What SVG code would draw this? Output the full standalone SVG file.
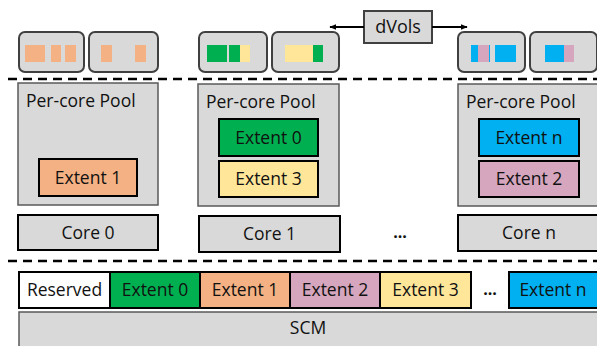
<svg xmlns="http://www.w3.org/2000/svg" width="597" height="346" viewBox="0 0 597 346">
<defs>
<marker id="ah" viewBox="0 0 10 10" refX="9" refY="5" markerWidth="7" markerHeight="7" orient="auto-start-reverse" markerUnits="userSpaceOnUse">
<path d="M0,1 L10,5 L0,9 z" fill="#000"/>
</marker>
</defs>
<style>
text{font-family:"Open Sans","Noto Sans",sans-serif;font-size:17.5px;fill:#111}
.t{text-anchor:middle}
.dots{font-weight:bold;font-size:16px}
.vol{fill:#d9d9d9;stroke:#404040;stroke-width:2}
.pool{fill:#d9d9d9;stroke:#595959;stroke-width:1.5}
.box{stroke:#000;stroke-width:2}
.gray{fill:#d9d9d9}
.or{fill:#f4b183}
.gr{fill:#00b050}
.ye{fill:#ffe699}
.pk{fill:#d5a6bd}
.bl{fill:#00b0f0}
.wh{fill:#fff}
.dash{stroke:#000;stroke-width:2.5;stroke-dasharray:9 6;fill:none}
</style>
<g id="separators">
<line class="dash" x1="8" y1="79" x2="597" y2="79"/>
<line class="dash" x1="8" y1="261" x2="597" y2="261"/>
</g>
<g id="vol0">
<rect class="vol" x="19" y="32" width="65" height="40" rx="6"/>
<rect class="or" x="25" y="45" width="20" height="17"/>
<rect class="or" x="51" y="45" width="10" height="17"/>
<rect class="or" x="65" y="45" width="11" height="17"/>
</g>
<g id="vol1">
<rect class="vol" x="89" y="32" width="69" height="40" rx="6"/>
<rect class="or" x="101" y="45" width="11" height="17"/>
<rect class="or" x="135" y="45" width="11" height="17"/>
</g>
<g id="vol2">
<rect class="vol" x="199" y="32" width="68" height="40" rx="6"/>
<rect class="gr" x="207" y="45" width="20" height="17"/>
<rect class="gr" x="229" y="45" width="11" height="17"/>
<rect class="ye" x="240" y="45" width="10" height="17"/>
</g>
<g id="vol3">
<rect class="vol" x="272" y="32" width="67" height="40" rx="6"/>
<rect class="ye" x="285" y="45" width="28" height="17"/>
<rect class="gr" x="313" y="45" width="10" height="17"/>
</g>
<g id="vol4">
<rect class="vol" x="458" y="32" width="67" height="40" rx="6"/>
<rect class="bl" x="471" y="45" width="7" height="17"/>
<rect class="pk" x="478" y="45" width="11" height="17"/>
<rect class="bl" x="489" y="45" width="1" height="17"/>
<rect class="bl" x="495" y="45" width="21" height="17"/>
</g>
<g id="vol5">
<rect class="vol" x="530" y="32" width="67" height="40" rx="6"/>
<rect class="bl" x="545" y="45" width="19" height="17"/>
<rect class="pk" x="564" y="45" width="10" height="17"/>
</g>
<g id="dvols">
<rect x="364" y="11" width="68" height="32" fill="#d9d9d9" stroke="#404040" stroke-width="2"/>
<text class="t" x="398" y="33" style="font-size:18px">dVols</text>
</g>
<g id="connectors">
<line x1="364" y1="27" x2="330" y2="27" stroke="#000" stroke-width="2" marker-end="url(#ah)"/>
<line x1="432" y1="27" x2="467" y2="27" stroke="#000" stroke-width="2" marker-end="url(#ah)"/>
</g>
<g id="pool0">
<rect class="pool" x="18" y="83" width="140" height="122"/>
<text x="26" y="107">Per-core Pool</text>
<rect class="box or" x="39" y="159" width="98" height="37"/>
<text class="t" x="88" y="184">Extent 1</text>
</g>
<g id="core0">
<rect class="box gray" x="18" y="215" width="140" height="35"/>
<text class="t" x="88" y="239">Core 0</text>
</g>
<g id="pool1">
<rect class="pool" x="198" y="84" width="141" height="122"/>
<text x="206" y="108">Per-core Pool</text>
<rect class="box gr" x="219" y="119" width="99" height="37"/>
<text class="t" x="268.500" y="143.500">Extent 0</text>
<rect class="box ye" x="219" y="161" width="99" height="36"/>
<text class="t" x="268.500" y="185">Extent 3</text>
</g>
<g id="core1">
<rect class="box gray" x="199" y="216" width="141" height="36"/>
<text class="t" x="269.500" y="240">Core 1</text>
</g>
<text class="t dots" x="400" y="238">...</text>
<g id="pooln">
<rect class="pool" x="458" y="84" width="145" height="122"/>
<text x="466" y="108">Per-core Pool</text>
<rect class="box bl" x="479" y="119" width="100" height="37"/>
<text class="t" x="529" y="143.500">Extent n</text>
<rect class="box pk" x="479" y="161" width="100" height="36"/>
<text class="t" x="529" y="185">Extent 2</text>
</g>
<g id="coren">
<rect class="box gray" x="458" y="215" width="145" height="36"/>
<text class="t" x="529" y="239">Core n</text>
</g>
<g id="layout">
<rect class="box wh" x="19" y="272" width="91" height="36"/>
<text class="t" x="64.500" y="296">Reserved</text>
<rect class="box gr" x="110" y="272" width="90" height="36"/>
<text class="t" x="155" y="296">Extent 0</text>
<rect class="box or" x="200" y="272" width="90" height="36"/>
<text class="t" x="245" y="296">Extent 1</text>
<rect class="box pk" x="290" y="272" width="90" height="36"/>
<text class="t" x="335" y="296">Extent 2</text>
<rect class="box ye" x="380" y="272" width="91" height="36"/>
<text class="t" x="425.500" y="296">Extent 3</text>
<text class="t dots" x="490" y="295">...</text>
<rect class="box bl" x="509" y="272" width="95" height="36"/>
<text class="t" x="553" y="296">Extent n</text>
</g>
<g id="scm">
<rect x="19" y="312" width="585" height="40" fill="#d9d9d9" stroke="#595959" stroke-width="1.5"/>
<text class="t" x="308" y="334">SCM</text>
</g>
</svg>
